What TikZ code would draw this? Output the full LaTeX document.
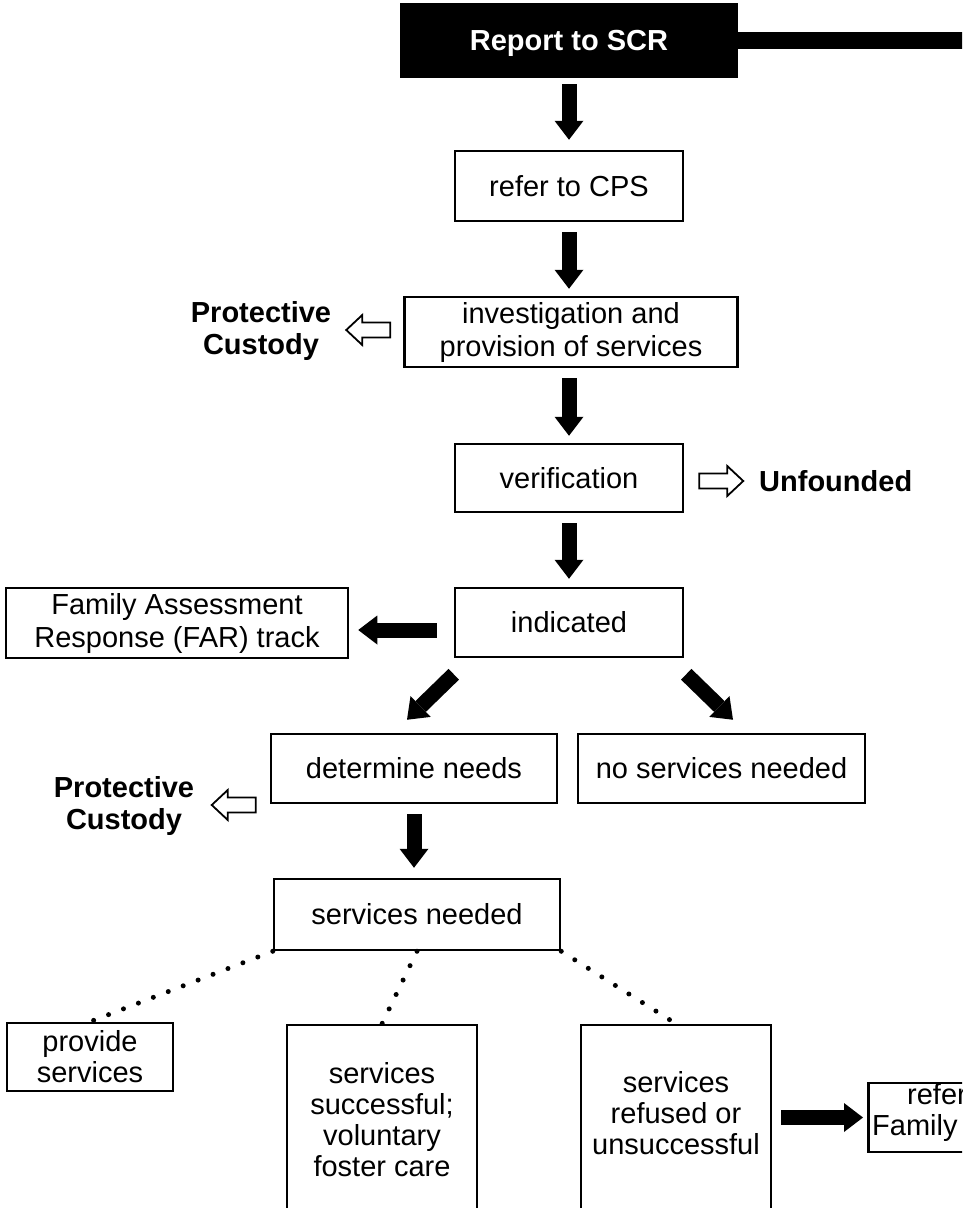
\documentclass[tikz,border=0pt]{standalone}
\usepackage{fontspec}
\setmainfont{Liberation Sans}
\usetikzlibrary{arrows.meta,calc}
\begin{document}
\begin{tikzpicture}[x=1pt,y=-1pt,
  box/.style={draw=black,line width=2.5pt,inner sep=0pt,align=center,font=\fontsize{29}{33}\selectfont},
  tallbox/.style={box,font=\fontsize{29}{31}\selectfont},
  txt/.style={inner sep=0pt,align=center,font=\fontsize{29}{31}\selectfont},
  lbl/.style={inner sep=0pt,align=center,font=\fontsize{29}{32}\selectfont\bfseries},
  barrow/.style={line width=15pt,-{Triangle[length=19pt,width=29pt,line width=0pt]}},
  dots/.style={line width=5pt,line cap=round,dash pattern=on 0pt off 16pt},
  hollow/.style={draw=black,fill=white,line width=1.8pt,line join=miter},
  harrow/.pic={\draw[hollow] (0,-7.5) -- (28,-7.5) -- (28,-15) -- (44,0) -- (28,15) -- (28,7.5) -- (0,7.5) -- cycle;}
]
\useasboundingbox (0,0) rectangle (962,1208);
\clip (0,0) rectangle (962,1208);

% nodes
\node[box,fill=black,text=white,text depth=0pt,font=\fontsize{29}{31}\selectfont\bfseries,minimum width=336pt,minimum height=73pt] (scr) at (569,40.5) {Report to SCR};
\fill ($(scr.east)+(0,-8.5)$) rectangle ($(scr.east)+(240,8.5)$);

\node[box,minimum width=228pt,minimum height=70pt] (cps) at (569,186) {refer to CPS};
\node[box,minimum width=333pt,minimum height=70pt] (inv) at (571,332) {investigation and\\provision of services};
\node[lbl] (pc1) at (261,331) {Protective\\Custody};
\node[box,minimum width=228pt,minimum height=68pt] (ver) at (569,478) {verification};
\node[lbl,anchor=west] (unf) at (759,481) {Unfounded};
\node[box,minimum width=228pt,minimum height=69pt] (ind) at (569,622.5) {indicated};
\node[box,minimum width=342pt,minimum height=70pt] (far) at (177,623) {Family Assessment\\Response (FAR) track};
\node[box,minimum width=286pt,minimum height=69pt] (det) at (414,768.5) {determine needs};
\node[box,minimum width=287pt,minimum height=69pt] (nsn) at (721.5,768.5) {no services needed};
\node[lbl] (pc2) at (124,806) {Protective\\Custody};
\node[box,minimum width=286pt,minimum height=71pt] (sn) at (417,914.5) {services needed};
\node[tallbox,minimum width=166pt,minimum height=68pt] (prov) at (90,1057) {provide\\services};
\node[tallbox,minimum width=190pt,minimum height=190pt] (succ) at (382,1120) {services\\successful;\\voluntary\\foster care};
\node[tallbox,minimum width=190pt,minimum height=190pt] (ref) at (676,1120) {};
\node[txt] (reft) at (676,1113) {services\\refused or\\unsuccessful};
\node[box,minimum width=200pt,minimum height=69pt,anchor=west] (fam) at (867,1117.5) {};
\node[anchor=west,inner sep=0pt,align=left,font=\fontsize{29}{31}\selectfont] (famt) at (872,1113) {\hspace*{35pt}refer\\Family};

% black arrows
\draw[barrow] ($(scr.south)+(0,6)$) -- ($(cps.north)+(0,-10)$);
\draw[barrow] ($(cps.south)+(0,10)$) -- ($(cps.south |- inv.north)+(0,-7)$);
\draw[barrow] ($(ver.north |- inv.south)+(0,10)$) -- ($(ver.north)+(0,-7)$);
\draw[barrow] ($(ver.south)+(0,10)$) -- ($(ind.north)+(0,-8)$);
\draw[barrow] ($(ind.west)+(-17,7.5)$) -- ($(far.east |- ind.west)+(9,7.5)$);
\draw[barrow] ($(ind.south west)+(0,16)$) -- ($(det.north)+(-7,-13)$);
\draw[barrow] ($(ind.south east)+(2,16)$) -- ($(nsn.north)+(11.5,-13)$);
\draw[barrow] ($(det.south)+(0,10)$) -- ($(det.south |- sn.north)+(0,-10)$);
\draw[barrow] ($(ref.east |- fam.west)+(9,0)$) -- ($(fam.west)+(-4,0)$);

% hollow arrows
\pic[rotate=180] at ($(inv.west)+(-13,-2)$) {harrow};
\pic at ($(ver.east)+(15,3)$) {harrow};
\pic[rotate=180] at ($(det.west)+(-14,36.5)$) {harrow};

% dotted connectors
\draw[dots] (sn.south west) -- (prov.north);
\draw[dots] (sn.south) -- (succ.north);
\draw[dots] (sn.south east) -- (ref.north);
\end{tikzpicture}
\end{document}
